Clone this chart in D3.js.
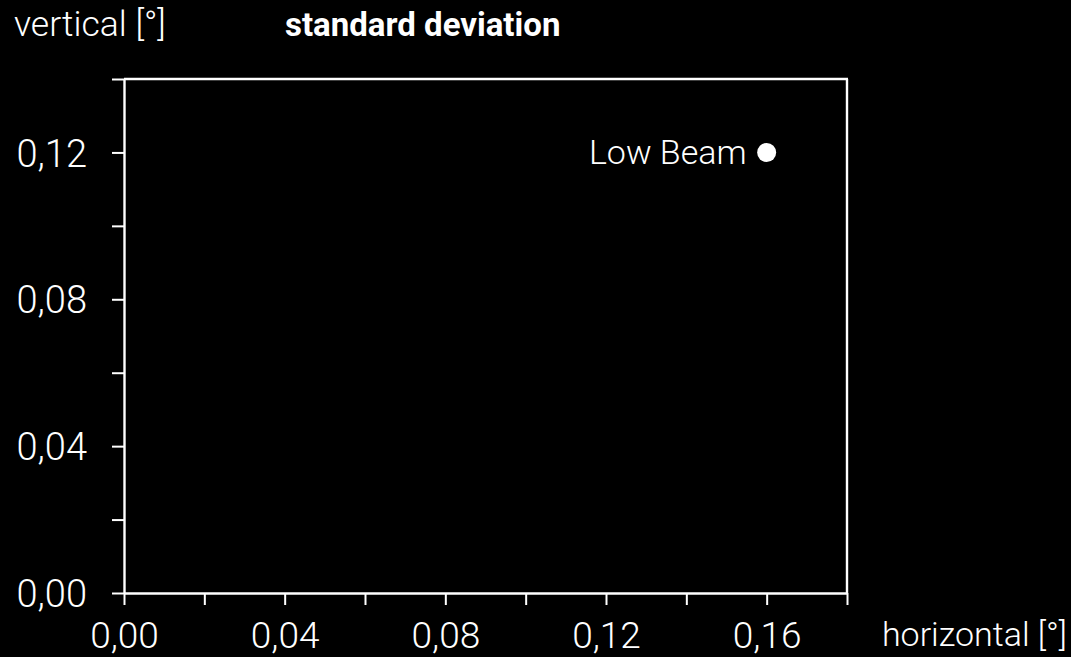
<!DOCTYPE html>
<html><head><meta charset="utf-8">
<script src="https://cdn.jsdelivr.net/npm/d3@7"></script>
<style>html,body{margin:0;padding:0;background:#000;}svg{display:block;}</style>
</head><body>
<svg id="c" width="1071" height="657"></svg>
<script>
const xTicks = [0,0.02,0.04,0.06,0.08,0.10,0.12,0.14,0.16,0.18];
const xTickLabels = ["0,00","","0,04","","0,08","","0,12","","0,16",""];
const yTicks = [0,0.02,0.04,0.06,0.08,0.10,0.12,0.14];
const yTickLabels = ["0,00","","0,04","","0,08","","0,12",""];
const pointNames = ["Low Beam"];
const pointX = [0.16];
const pointY = [0.12];

const svg = d3.select("#c");
const W=1071,H=657;
svg.append("rect").attr("width",W).attr("height",H).attr("fill","#000");
const L=124,R=847,T=79,B=593;
const x = d3.scaleLinear().domain([0,0.18]).range([L,R]);
const y = d3.scaleLinear().domain([0,0.14]).range([B,T]);
const font = "Roboto, 'Noto Sans', sans-serif";

const xa = svg.append("g").attr("transform",`translate(0,${B})`)
  .call(d3.axisBottom(x).tickValues(xTicks).tickSize(12).tickSizeOuter(0).tickFormat((d,i)=>xTickLabels[i]));
const ya = svg.append("g").attr("transform",`translate(${L},0)`)
  .call(d3.axisLeft(y).tickValues(yTicks).tickSize(12).tickSizeOuter(0).tickFormat((d,i)=>yTickLabels[i]));
[xa,ya].forEach(g=>{
  g.select(".domain").attr("stroke","#fff").attr("stroke-width",2.4);
  g.selectAll(".tick line").attr("stroke","#fff").attr("stroke-width",2);
  g.selectAll(".tick text").attr("fill","#fff").attr("font-family",font).attr("font-weight",300).attr("font-size",38);
});
xa.selectAll(".tick text").attr("font-size",37).attr("y",0).attr("dy",0).attr("transform","translate(0,55)");
ya.selectAll(".tick text").attr("x",-37).attr("dy","0.36em");
// frame top and right
svg.append("line").attr("x1",L).attr("x2",R+1).attr("y1",y(0.14)).attr("y2",y(0.14)).attr("stroke","#fff").attr("stroke-width",2.4);
svg.append("line").attr("x1",x(0.18)).attr("x2",x(0.18)).attr("y1",T).attr("y2",B).attr("stroke","#fff").attr("stroke-width",2.4);

svg.selectAll("circle.pt").data(pointX).enter().append("circle").attr("class","pt")
  .attr("cx",d=>x(d)).attr("cy",(d,i)=>y(pointY[i])).attr("r",9.5).attr("fill","#fff");
svg.selectAll("text.pl").data(pointX).enter().append("text").attr("class","pl")
  .attr("x",d=>x(d)-20).attr("y",(d,i)=>y(pointY[i])+12).attr("text-anchor","end")
  .attr("fill","#fff").attr("font-family",font).attr("font-weight",300).attr("font-size",34)
  .text((d,i)=>pointNames[i]);

svg.append("text").attr("x",14).attr("y",36).attr("fill","#fff").attr("font-family",font)
  .attr("font-weight",300).attr("font-size",35.5).text("vertical [°]");
svg.append("text").attr("x",285).attr("y",36).attr("fill","#fff").attr("font-family",font)
  .attr("font-weight",700).attr("font-size",33).text("standard deviation");
svg.append("text").attr("x",1067).attr("y",646).attr("text-anchor","end").attr("fill","#fff").attr("font-family",font)
  .attr("font-weight",300).attr("font-size",34).text("horizontal [°]");
</script>
</body></html>
